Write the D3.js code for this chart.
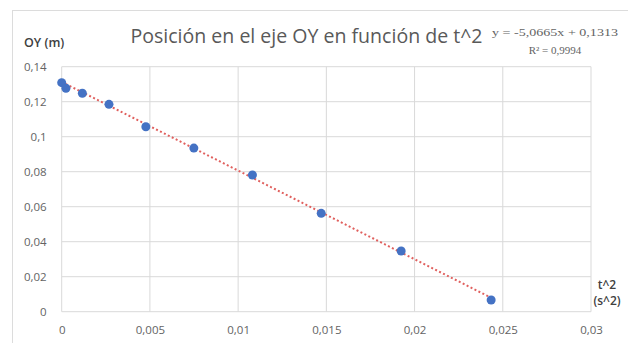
<!DOCTYPE html>
<html>
<head>
<meta charset="utf-8">
<script src="https://cdn.jsdelivr.net/npm/d3@7"></script>
<style>
  html, body { margin: 0; padding: 0; background: #fff; }
  svg { display: block; }
</style>
</head>
<body>
<svg id="chart" width="628" height="343"></svg>
<script>
// Measured points: squared time (s^2) and vertical position (m)
const t2 = [0, 0.00024, 0.00117, 0.00268, 0.00477, 0.00749, 0.01081, 0.01471, 0.01924, 0.02434];
const oy = [0.1309, 0.1277, 0.1248, 0.1185, 0.1057, 0.0935, 0.0781, 0.0562, 0.0347, 0.0067];

// Linear fit shown in the corner
const fitSlope = -5.0665;
const fitIntercept = 0.1313;
const fitR2 = 0.9994;

const xTicks = [0, 0.005, 0.01, 0.015, 0.02, 0.025, 0.03];
const yTicks = [0, 0.02, 0.04, 0.06, 0.08, 0.1, 0.12, 0.14];

const fmt = v => String(v).replace(".", ",");
const fmtNum = (v, d) => v.toFixed(d).replace(".", ",");

const svg = d3.select("#chart");
const grid = "#d9d9d9";
const textCol = "#636363";

// chart frame
svg.append("rect")
  .attr("x", 12.5).attr("y", 10.5)
  .attr("width", 640).attr("height", 360)
  .attr("fill", "#fff").attr("stroke", "#dcdcdc");

const x = d3.scaleLinear().domain([0, 0.03]).range([61.7, 591]);
const y = d3.scaleLinear().domain([0, 0.14]).range([311.7, 66.7]);

// gridlines
svg.append("g").selectAll("line.v").data(xTicks).join("line")
  .attr("x1", d => x(d)).attr("x2", d => x(d))
  .attr("y1", y(0.14)).attr("y2", y(0))
  .attr("stroke", grid).attr("stroke-width", 1);
svg.append("g").selectAll("line.h").data(yTicks).join("line")
  .attr("x1", x(0)).attr("x2", x(0.03))
  .attr("y1", d => y(d)).attr("y2", d => y(d))
  .attr("stroke", grid).attr("stroke-width", 1);

// tick labels via d3 axes (axis lines hidden, only text)
const xAxis = svg.append("g")
  .attr("transform", `translate(0,${y(0)})`)
  .call(d3.axisBottom(x).tickValues(xTicks).tickFormat(fmt).tickSize(0).tickPadding(14));
xAxis.select(".domain").remove();
xAxis.selectAll("text")
  .attr("fill", textCol).attr("font-size", 11.5)
  .attr("font-family", "Open Sans, sans-serif");

const yAxis = svg.append("g")
  .attr("transform", `translate(${x(0)},0)`)
  .call(d3.axisLeft(y).tickValues(yTicks).tickFormat(fmt).tickSize(0).tickPadding(15));
yAxis.select(".domain").remove();
yAxis.selectAll("text")
  .attr("fill", textCol).attr("font-size", 11.5)
  .attr("font-family", "Open Sans, sans-serif");

// trend line
const tMax = d3.max(t2);
svg.append("line")
  .attr("x1", x(0)).attr("y1", y(fitIntercept))
  .attr("x2", x(tMax)).attr("y2", y(fitIntercept + fitSlope * tMax))
  .attr("stroke", "#e0605e").attr("stroke-width", 2)
  .attr("stroke-dasharray", "2,2.4");

// points
svg.append("g").selectAll("circle").data(t2.map((t, i) => [t, oy[i]])).join("circle")
  .attr("cx", d => x(d[0])).attr("cy", d => y(d[1]))
  .attr("r", 4.5).attr("fill", "#4472c4");

// title
svg.append("text")
  .attr("x", 130.5).attr("y", 43)
  .attr("font-family", "Open Sans, sans-serif").attr("font-size", 20.5)
  .attr("fill", "#595959")
  .attr("textLength", 352).attr("lengthAdjust", "spacingAndGlyphs")
  .text("Posición en el eje OY en función de t^2");

// fit equation
svg.append("text")
  .attr("x", 555).attr("y", 35.5).attr("text-anchor", "middle")
  .attr("font-family", "Liberation Serif, serif").attr("font-size", 11)
  .attr("fill", textCol)
  .attr("textLength", 126).attr("lengthAdjust", "spacingAndGlyphs")
  .text(`y = ${fmtNum(fitSlope, 4)}x + ${fmtNum(fitIntercept, 4)}`);
svg.append("text")
  .attr("x", 555).attr("y", 54).attr("text-anchor", "middle")
  .attr("font-family", "Liberation Serif, serif").attr("font-size", 11)
  .attr("fill", textCol)
  .text(`R² = ${fmtNum(fitR2, 4)}`);

// axis titles
svg.append("text")
  .attr("x", 24).attr("y", 47)
  .attr("font-family", "Open Sans, sans-serif").attr("font-size", 12.5)
  .attr("font-weight", 600).attr("fill", "#404040")
  .text("OY (m)");
svg.append("text")
  .attr("x", 607).attr("y", 289).attr("text-anchor", "middle")
  .attr("font-family", "Open Sans, sans-serif").attr("font-size", 12)
  .attr("font-weight", 600).attr("fill", "#404040")
  .text("t^2");
svg.append("text")
  .attr("x", 607).attr("y", 305).attr("text-anchor", "middle")
  .attr("font-family", "Open Sans, sans-serif").attr("font-size", 12)
  .attr("font-weight", 600).attr("fill", "#404040")
  .text("(s^2)");
</script>
</body>
</html>
